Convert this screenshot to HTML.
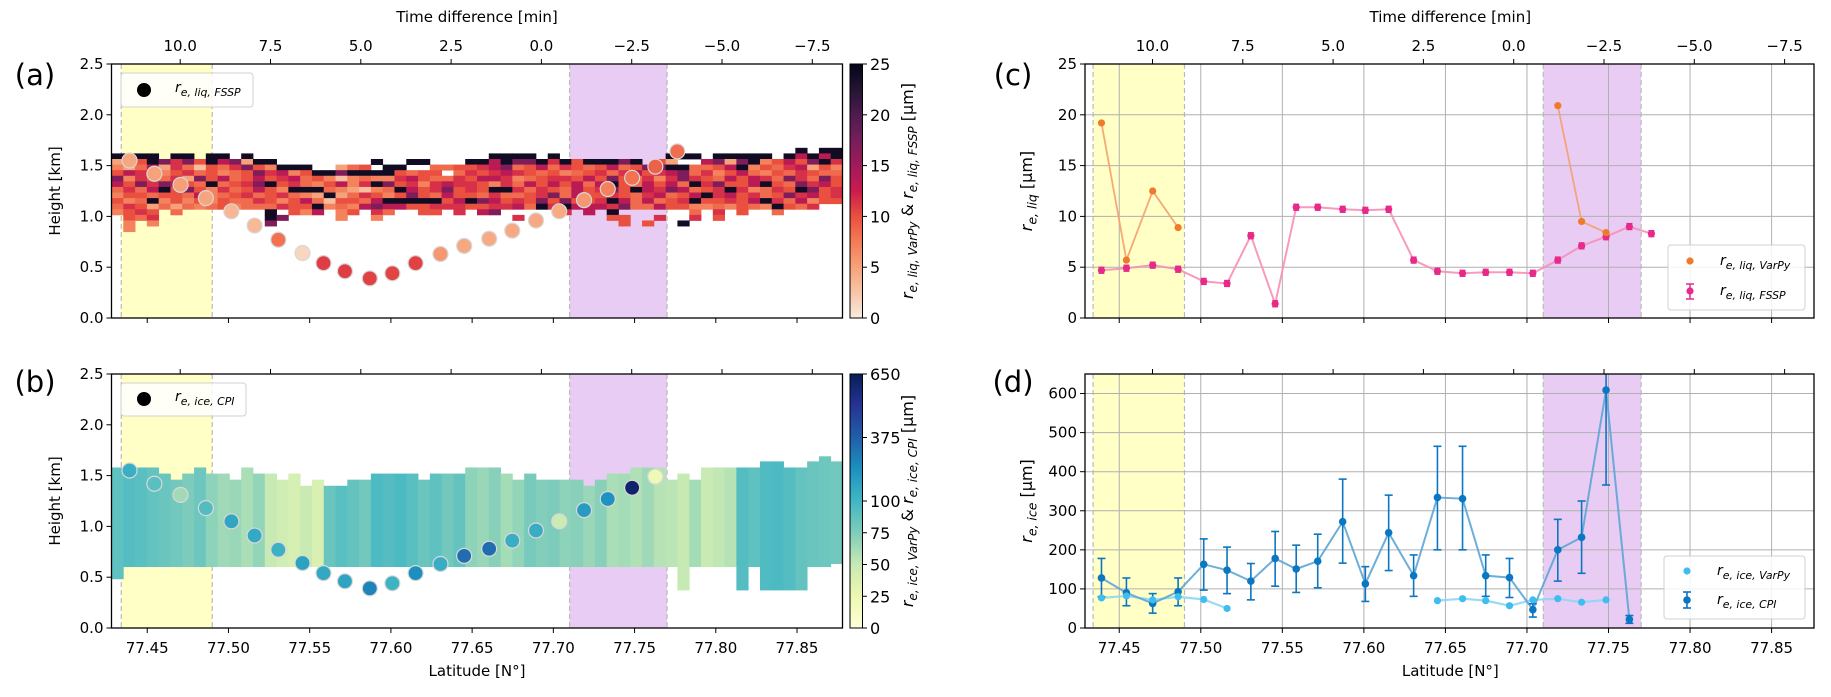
<!DOCTYPE html>
<html><head><meta charset="utf-8">
<style>
html,body{margin:0;padding:0;background:#fff;}
svg{display:block;font-family:"DejaVu Sans","Liberation Sans",sans-serif;}
</style></head>
<body>
<svg id="fig" width="1831" height="697" viewBox="0 0 1831 697" xmlns="http://www.w3.org/2000/svg">
<defs>
<linearGradient id="gradA" x1="0" y1="1" x2="0" y2="0">
<stop offset="0" stop-color="#faebdd"/><stop offset="0.1" stop-color="#f7c6a8"/><stop offset="0.2" stop-color="#f6a27a"/><stop offset="0.3" stop-color="#f47b56"/><stop offset="0.4" stop-color="#e9503f"/><stop offset="0.5" stop-color="#cb1b4f"/><stop offset="0.6" stop-color="#a11a5b"/><stop offset="0.7" stop-color="#761e5b"/><stop offset="0.8" stop-color="#4d1c4e"/><stop offset="0.9" stop-color="#251433"/><stop offset="1" stop-color="#03051a"/>
</linearGradient>
<linearGradient id="gradB" x1="0" y1="1" x2="0" y2="0">
<stop offset="0" stop-color="#ffffd9"/><stop offset="0.125" stop-color="#edf8b1"/><stop offset="0.25" stop-color="#c7e9b4"/><stop offset="0.375" stop-color="#7fcdbb"/><stop offset="0.5" stop-color="#41b6c4"/><stop offset="0.625" stop-color="#1d91c0"/><stop offset="0.75" stop-color="#225ea8"/><stop offset="0.875" stop-color="#253494"/><stop offset="1" stop-color="#081d58"/>
</linearGradient>
</defs>
<g id="layer"></g>
</svg>
<script>
// ---------------- data ----------------
const pointLats = [77.4391,77.4544,77.4705,77.4861,77.5018,77.5161,77.5307,77.5456,77.5585,77.5717,77.5870,77.6009,77.6152,77.6305,77.6451,77.6605,77.6747,77.6893,77.7036,77.7189,77.7335,77.7485,77.7628,77.7763];
const flightHeights = [1.55,1.42,1.31,1.18,1.05,0.91,0.77,0.64,0.54,0.46,0.39,0.44,0.54,0.63,0.71,0.78,0.86,0.96,1.05,1.16,1.27,1.38,1.49,1.64];
const liqFSSP = [4.7,4.9,5.2,4.8,3.6,3.4,8.1,1.4,10.9,10.9,10.7,10.6,10.7,5.7,4.6,4.4,4.5,4.5,4.4,5.7,7.1,8.0,9.0,8.3];
const liqVarPy = [19.2,5.7,12.5,8.9,null,null,null,null,null,null,null,null,null,null,null,null,null,null,null,20.9,9.5,8.4,null,null];
const iceCPI = [128,90,63,93,163,148,120,178,151,171,272,113,244,134,334,331,134,129,47,200,232,609,22];
const iceCPIlo = [80,57,38,57,97,88,72,107,91,103,166,68,147,81,200,200,81,78,28,120,140,366,12];
const iceCPIhi = [178,128,88,128,228,207,165,247,212,240,381,157,340,187,465,465,187,178,62,278,325,660,32];
const iceVarPy = [77,82,72,80,73,50,null,null,null,null,null,null,null,null,70,75,70,57,72,75,66,72,null];
const latTicks = [77.45,77.50,77.55,77.60,77.65,77.70,77.75,77.80,77.85];
const timeTicks = [10.0,7.5,5.0,2.5,0.0,-2.5,-5.0,-7.5];
const heightTicks = [0.0,0.5,1.0,1.5,2.0,2.5];
const liqTicks = [0,5,10,15,20,25];
const iceTicks = [0,100,200,300,400,500,600];
const cbarLiqTicks = [0,5,10,15,20,25];
const cbarIceTicks = [0,25,50,75,100,375,650];
const yellowBand = [77.434,77.490];
const purpleBand = [77.710,77.770];
// liquid heatmap levels (rows top->bottom: 1.62 ... 0.85 km), '.' = empty, digit d -> liqLevels[d] um
const liqLevels = [1,3,5,7,8.5,10,11.5,13.5,17,24];
const liqGrid = [
"..........|..........|..........|..........|..........|........9.|99",
"9999.99.99|.9........|..........|..9999.9..|.......999|.99999.979|79",
"2159868597|8299......|..9..99...|9979889695|99989.52..|7828935758|96",
"3247264154|6853999..2|45.99..445|5678457465|4574588994|4579354672|53",
"5768356453|4586735998|99995455.4|6567654534|5646756784|6357435465|44",
"8365462857|4575674531|3433675446|5776345665|7585463686|5475764864|85",
"7586875494|5689564357|3698563676|6536475757|4795475749|6855795486|75",
"4647958536|4575399943|2134975685|6599646547|5685976874|5696346598|56",
"3554554734|5645643292|4653585475|5464456847|5565467457|9675645867|56",
"5349353535|4465357415|5479999957|9875658585|5697474569|5565796473|55",
"4652424345|3444655934|3787755666|5566749697|7768447553|3435439546|..",
"3565.4....|...9.537.3|5.64..55.6|.78.....6.|7.9......4|.6.5..4...|..",
".546......|...98....3|..3.......|....6.....|..55..6..6|.5........|..",
".3.3......|...8......|..........|..........|...5.5..9.|..........|..",
".3........|..........|..........|..........|..........|..........|.."
];
const liqRowBase = 0.85, liqRowH = 0.055, nCols = 62;
// ice heatmap per column: top [km], bottom [km], value [um]
const iceTop = [1.58,1.58,1.58,1.58,1.52,1.46,1.52,1.58,1.52,1.52,1.46,1.58,1.52,1.52,1.46,1.52,1.40,1.46,1.40,1.40,1.46,1.46,1.52,1.52,1.52,1.52,1.46,1.52,1.52,1.52,1.58,1.58,1.58,1.52,1.46,1.52,1.46,1.46,1.46,1.46,1.40,1.46,1.52,1.52,1.58,1.58,1.58,1.46,1.52,1.46,1.58,1.58,1.58,1.58,1.58,1.64,1.64,1.58,1.58,1.64,1.69,1.64];
const iceBot = [0.48,0.6,0.6,0.6,0.6,0.6,0.6,0.6,0.6,0.6,0.6,0.6,0.6,0.6,0.6,0.6,0.6,0.6,0.6,0.6,0.6,0.6,0.6,0.6,0.6,0.6,0.6,0.6,0.6,0.6,0.6,0.6,0.6,0.6,0.6,0.6,0.6,0.6,0.6,0.6,0.6,0.6,0.6,0.6,0.6,0.6,0.6,0.6,0.37,0.6,0.6,0.6,0.6,0.37,0.6,0.37,0.37,0.37,0.37,0.6,0.6,0.63];
const iceVal = [88,92,90,86,84,80,76,82,70,64,66,60,68,50,44,40,48,38,84,90,86,80,95,92,96,90,84,88,80,86,70,66,72,62,68,78,74,76,70,72,66,72,60,62,58,64,56,54,50,62,48,52,56,92,88,94,96,92,86,84,82,80];

// ---------------- scales ----------------
const xA = lat => 111.5 + (lat - 77.428) / 0.45 * 731;
const xC = lat => 1085 + (lat - 77.429) / 0.447 * 729;
const tA = t => 180.2 + (10 - t) / 2.5 * 90.3;
const tC = t => 1152.5 + (10 - t) / 2.5 * 90.3;
const yA = h => 318 - h / 2.5 * 254;
const yB = h => 628 - h / 2.5 * 254;
const yC = v => 318 - v / 25 * 254;
const yD = v => 628 - v / 650 * 254;
const iceNorm = v => v <= 100 ? v / 100 * 0.5 : 0.5 + (v - 100) / 550 * 0.5;
const yCbB = v => 628 - iceNorm(v) * 254;

// ---------------- colormaps ----------------
const rocketR = ["#faebdd","#f7c6a8","#f6a27a","#f47b56","#e9503f","#cb1b4f","#a11a5b","#761e5b","#4d1c4e","#251433","#03051a"];
const ylgnbu = ["#ffffd9","#edf8b1","#c7e9b4","#7fcdbb","#41b6c4","#1d91c0","#225ea8","#253494","#081d58"];
function hex2rgb(h){return [1,3,5].map(i=>parseInt(h.substr(i,2),16));}
function interp(stops,f){
  f=Math.max(0,Math.min(1,f));const n=stops.length-1;const p=f*n;const i=Math.min(n-1,Math.floor(p));const r=p-i;
  const a=hex2rgb(stops[i]),b=hex2rgb(stops[i+1]);
  return "rgb("+a.map((v,k)=>Math.round(v+(b[k]-v)*r)).join(",")+")";
}
const liqColor = v => interp(rocketR, v / 25);
const iceColor = v => interp(ylgnbu, iceNorm(v));

// ---------------- helpers ----------------
const NS = "http://www.w3.org/2000/svg";
const layer = document.getElementById("layer");
function el(tag, attrs, parent){
  const e = document.createElementNS(NS, tag);
  for (const k in attrs) e.setAttribute(k, attrs[k]);
  (parent || layer).appendChild(e);
  return e;
}
function txt(x,y,s,anchor,size,parent,extra){
  const t = el("text",Object.assign({x:x,y:y,"text-anchor":anchor||"middle","font-size":size||15,fill:"#000"},extra||{}),parent);
  t.textContent = s; return t;
}
function reLabel(x,y,sub,size,parent,anchor,tail){
  const t = el("text",{x:x,y:y,"font-size":size,"text-anchor":anchor||"start","font-style":"italic"},parent);
  const a = document.createElementNS(NS,"tspan"); a.textContent="r"; t.appendChild(a);
  const b = document.createElementNS(NS,"tspan"); b.setAttribute("font-size",size*0.78); b.setAttribute("dy",size*0.28); b.textContent="e, "+sub; t.appendChild(b);
  if(tail){const c=document.createElementNS(NS,"tspan");c.setAttribute("dy",-size*0.28);c.setAttribute("font-style","normal");c.textContent=tail;t.appendChild(c);}
  return t;
}

function panelFrame(name, x0, x1, y0, y1, xfun, tfun, showLatLabels, showTimeLabels, grid, yticks, yfun, yfmt){
  const g = el("g",{});
  
  
  const yb = el("rect",{x:xfun(yellowBand[0]),y:y0,width:xfun(yellowBand[1])-xfun(yellowBand[0]),height:y1-y0,fill:"#ffffc6"},g);
  
  
  const pb = el("rect",{x:xfun(purpleBand[0]),y:y0,width:xfun(purpleBand[1])-xfun(purpleBand[0]),height:y1-y0,fill:"#e8ccf4"},g);
  
  
  [yellowBand[0],yellowBand[1],purpleBand[0],purpleBand[1]].forEach(l=>{
    el("line",{x1:xfun(l),x2:xfun(l),y1:y0,y2:y1,stroke:"#bbbbbb","stroke-width":1.2,"stroke-dasharray":"5,3"},g);
  });
  if(grid){
    latTicks.forEach(l=>el("line",{x1:xfun(l),x2:xfun(l),y1:y0,y2:y1,stroke:"#b0b0b0","stroke-width":1},g));
    yticks.forEach(v=>el("line",{x1:x0,x2:x1,y1:yfun(v),y2:yfun(v),stroke:"#b0b0b0","stroke-width":1},g));
  }
  const ax = el("g",{},g);
  
  
  latTicks.forEach(l=>{
    el("line",{x1:xfun(l),x2:xfun(l),y1:y1,y2:y1+5,stroke:"#000","stroke-width":1},ax);
    if(showLatLabels) txt(xfun(l),y1+25,l.toFixed(2),"middle",15,ax);
  });
  timeTicks.forEach(t=>{
    el("line",{x1:tfun(t),x2:tfun(t),y1:y0,y2:y0-5,stroke:"#000","stroke-width":1},ax);
    if(showTimeLabels) txt(tfun(t),y0-13,t.toFixed(1).replace("-","\u2212"),"middle",15,ax);
  });
  yticks.forEach(v=>{
    el("line",{x1:x0,x2:x0-5,y1:yfun(v),y2:yfun(v),stroke:"#000","stroke-width":1},ax);
    txt(x0-8,yfun(v)+5,yfmt(v),"end",15,ax);
  });
  return g;
}
function frameBox(g,x0,x1,y0,y1){
  el("rect",{x:x0,y:y0,width:x1-x0,height:y1-y0,fill:"none",stroke:"#000","stroke-width":1.3},g);
}

// ================= panel (a) =================
(function(){
  const x0=111.5,x1=842.5,y0=64,y1=318;
  const g = panelFrame("panel-a",x0,x1,y0,y1,xA,tA,false,true,false,heightTicks,yA,v=>v.toFixed(1));
  const hm = el("g",{},g);
  
  
  const w = 0.45/nCols;
  liqGrid.forEach((rowStr,ri)=>{
    const row = rowStr.replace(/\|/g,"").padEnd(nCols,".");
    const hLow = liqRowBase + (liqGrid.length-1-ri)*liqRowH;
    for(let j=0;j<nCols;j++){
      const c=row[j]; if(c===".") continue;
      const v = liqLevels[+c];
      const lat = 77.428 + j*w;
      const r = el("rect",{x:xA(lat),y:yA(hLow+liqRowH),width:xA(lat+w)-xA(lat)+0.4,height:yA(hLow)-yA(hLow+liqRowH)+0.4,fill:liqColor(v)},hm);
      
      
    }
  });
  flightHeights.forEach((h,i)=>{
    const c = el("circle",{cx:xA(pointLats[i]),cy:yA(h),r:7.5,fill:liqColor(liqFSSP[i]),stroke:"#d8d8d8","stroke-width":1.2},g);
    
    
  });
  frameBox(g,x0,x1,y0,y1);
  const lg = el("g",{},g);
  
  
  el("rect",{x:121,y:73,width:132,height:34,rx:3,fill:"#fff","fill-opacity":0.85,stroke:"#d0d0d0"},lg);
  el("circle",{cx:144,cy:90,r:7,fill:"#000"},lg);
  reLabel(175,92,"liq, FSSP",14,lg);
  txt(xA(77.653),22,"Time difference [min]","middle",15,g);
  const yl = txt(0,0,"Height [km]","middle",15,g,{transform:"translate(60,191) rotate(-90)"});
  
  
  const pl = txt(35,85,"(a)","middle",29,g);
  
  
  const cb = el("g",{},g);
  
  
  el("rect",{x:850,y:y0,width:12.5,height:y1-y0,fill:"url(#gradA)",stroke:"#000","stroke-width":1},cb);
  cbarLiqTicks.forEach(v=>{
    const yy = y1 - v/25*(y1-y0);
    el("line",{x1:862.5,x2:867,y1:yy,y2:yy,stroke:"#000"},cb);
    txt(870,yy+6,String(v),"start",16,cb);
  });
  const cl = el("g",{transform:"translate(913,191) rotate(-90)"},cb);
  const t = el("text",{x:0,y:0,"text-anchor":"middle","font-size":16},cl);
  t.innerHTML = '<tspan font-style="italic">r</tspan><tspan font-size="12" dy="4" font-style="italic">e, liq, VarPy</tspan><tspan dy="-4"> &amp; </tspan><tspan font-style="italic">r</tspan><tspan font-size="12" dy="4" font-style="italic">e, liq, FSSP</tspan><tspan dy="-4"> [µm]</tspan>';
})();

// ================= panel (b) =================
(function(){
  const x0=111.5,x1=842.5,y0=374,y1=628;
  const g = panelFrame("panel-b",x0,x1,y0,y1,xA,tA,true,false,false,heightTicks,yB,v=>v.toFixed(1));
  const hm = el("g",{},g);
  
  
  const w = 0.45/nCols;
  for(let j=0;j<nCols;j++){
    const lat = 77.428 + j*w;
    const r = el("rect",{x:xA(lat),y:yB(iceTop[j]),width:xA(lat+w)-xA(lat)+0.4,height:yB(iceBot[j])-yB(iceTop[j]),fill:iceColor(iceVal[j])},hm);
    
    
  }
  iceCPI.forEach((v,i)=>{
    const c = el("circle",{cx:xA(pointLats[i]),cy:yB(flightHeights[i]),r:7.5,fill:iceColor(v),stroke:"#d8d8d8","stroke-width":1.2},g);
    
    
  });
  frameBox(g,x0,x1,y0,y1);
  const lg = el("g",{},g);
  
  
  el("rect",{x:121,y:383,width:125,height:33,rx:3,fill:"#fff","fill-opacity":0.85,stroke:"#d0d0d0"},lg);
  el("circle",{cx:144,cy:399,r:7,fill:"#000"},lg);
  reLabel(175,401,"ice, CPI",14,lg);
  const xl = txt(xA(77.653),676,"Latitude [N°]","middle",15,g);
  
  
  const yl = txt(0,0,"Height [km]","middle",15,g,{transform:"translate(60,501) rotate(-90)"});
  
  
  const pl = txt(35,392,"(b)","middle",29,g);
  
  
  const cb = el("g",{},g);
  
  
  el("rect",{x:850,y:y0,width:12.5,height:y1-y0,fill:"url(#gradB)",stroke:"#000","stroke-width":1},cb);
  cbarIceTicks.forEach(v=>{
    const yy = yCbB(v);
    el("line",{x1:862.5,x2:867,y1:yy,y2:yy,stroke:"#000"},cb);
    txt(870,yy+6,String(v),"start",16,cb);
  });
  const cl = el("g",{transform:"translate(913,501) rotate(-90)"},cb);
  const t = el("text",{x:0,y:0,"text-anchor":"middle","font-size":16},cl);
  t.innerHTML = '<tspan font-style="italic">r</tspan><tspan font-size="12" dy="4" font-style="italic">e, ice, VarPy</tspan><tspan dy="-4"> &amp; </tspan><tspan font-style="italic">r</tspan><tspan font-size="12" dy="4" font-style="italic">e, ice, CPI</tspan><tspan dy="-4"> [µm]</tspan>';
})();

function segLines(vals, xf, yf, lats, g, color, width, opacity){
  let pts=[];
  const flush=()=>{ if(pts.length>1){ const p=el("polyline",{points:pts.join(" "),fill:"none",stroke:color,"stroke-width":width,"stroke-opacity":opacity},g);   } pts=[]; };
  vals.forEach((v,i)=>{ if(v===null){flush();} else pts.push(xf(lats[i])+","+yf(v)); });
  flush();
}

// ================= panel (c) =================
(function(){
  const x0=1085,x1=1814,y0=64,y1=318;
  const g = panelFrame("panel-c",x0,x1,y0,y1,xC,tC,false,true,true,liqTicks,yC,v=>String(v));
  segLines(liqVarPy,xC,yC,pointLats,g,"#f4a070",1.8,0.9);
  segLines(liqFSSP,xC,yC,pointLats,g,"#f78fb8",2,0.9);
  liqFSSP.forEach((v,i)=>{
    const x=xC(pointLats[i]), y=yC(v);
    el("line",{x1:x-3,x2:x+3,y1:y-3,y2:y-3,stroke:"#e7298a","stroke-width":1.3},g);
    el("line",{x1:x-3,x2:x+3,y1:y+3,y2:y+3,stroke:"#e7298a","stroke-width":1.3},g);
    const c=el("circle",{cx:x,cy:y,r:3.6,fill:"#e7298a"},g);
    
    
  });
  liqVarPy.forEach((v,i)=>{
    if(v===null) return;
    const c=el("circle",{cx:xC(pointLats[i]),cy:yC(v),r:3.6,fill:"#f07a2c"},g);
    
    
  });
  frameBox(g,x0,x1,y0,y1);
  const lg = el("g",{},g);
  
  
  el("rect",{x:1668,y:245,width:137,height:65,rx:3,fill:"#fff","fill-opacity":0.85,stroke:"#d0d0d0"},lg);
  el("circle",{cx:1690,cy:261,r:3.6,fill:"#f07a2c"},lg);
  reLabel(1720,265,"liq, VarPy",14,lg);
  el("line",{x1:1690,x2:1690,y1:284,y2:299,stroke:"#e7298a","stroke-width":1.5},lg);
  el("line",{x1:1686,x2:1694,y1:284,y2:284,stroke:"#e7298a","stroke-width":1.5},lg);
  el("line",{x1:1686,x2:1694,y1:299,y2:299,stroke:"#e7298a","stroke-width":1.5},lg);
  el("circle",{cx:1690,cy:291,r:3.6,fill:"#e7298a"},lg);
  reLabel(1720,295,"liq, FSSP",14,lg);
  txt(xC(77.653),22,"Time difference [min]","middle",15,g);
  const yl = el("g",{transform:"translate(1032,191) rotate(-90)"},g);
  
  
  reLabel(0,0,"liq",16,yl,"middle"," [µm]");
  const pl = txt(1013,85,"(c)","middle",29,g);
  
  
})();

// ================= panel (d) =================
(function(){
  const x0=1085,x1=1814,y0=374,y1=628;
  const g = panelFrame("panel-d",x0,x1,y0,y1,xC,tC,true,false,true,iceTicks,yD,v=>String(v));
  const clip = el("clipPath",{id:"clipD"},g);
  el("rect",{x:x0,y:y0,width:x1-x0,height:y1-y0},clip);
  const inner = el("g",{"clip-path":"url(#clipD)"},g);
  segLines(iceVarPy,xC,yD,pointLats,inner,"#8fd6f5",2.2,0.9);
  segLines(iceCPI,xC,yD,pointLats,inner,"#5da5d6",2,0.9);
  iceCPI.forEach((v,i)=>{
    const x=xC(pointLats[i]);
    const lo=yD(iceCPIlo[i]), hi=yD(iceCPIhi[i]);
    el("line",{x1:x,x2:x,y1:lo,y2:hi,stroke:"#0b76c2","stroke-width":1.6},inner);
    el("line",{x1:x-4,x2:x+4,y1:lo,y2:lo,stroke:"#0b76c2","stroke-width":1.6},inner);
    el("line",{x1:x-4,x2:x+4,y1:hi,y2:hi,stroke:"#0b76c2","stroke-width":1.6},inner);
    const c=el("circle",{cx:x,cy:yD(v),r:3.8,fill:"#0b76c2"},inner);
    
    
  });
  iceVarPy.forEach((v,i)=>{
    if(v===null) return;
    const c=el("circle",{cx:xC(pointLats[i]),cy:yD(v),r:3.6,fill:"#3fbdf0"},inner);
    
    
  });
  frameBox(g,x0,x1,y0,y1);
  const lg = el("g",{},g);
  
  
  el("rect",{x:1664,y:556,width:141,height:63,rx:3,fill:"#fff","fill-opacity":0.85,stroke:"#d0d0d0"},lg);
  el("circle",{cx:1687,cy:571,r:3.6,fill:"#3fbdf0"},lg);
  reLabel(1717,575,"ice, VarPy",14,lg);
  el("line",{x1:1687,x2:1687,y1:592,y2:608,stroke:"#0b76c2","stroke-width":1.6},lg);
  el("line",{x1:1683,x2:1691,y1:592,y2:592,stroke:"#0b76c2","stroke-width":1.6},lg);
  el("line",{x1:1683,x2:1691,y1:608,y2:608,stroke:"#0b76c2","stroke-width":1.6},lg);
  el("circle",{cx:1687,cy:600,r:3.8,fill:"#0b76c2"},lg);
  reLabel(1717,604,"ice, CPI",14,lg);
  const xl = txt(xC(77.653),676,"Latitude [N°]","middle",15,g);
  
  
  const yl = el("g",{transform:"translate(1032,501) rotate(-90)"},g);
  
  
  reLabel(0,0,"ice",16,yl,"middle"," [µm]");
  const pl = txt(1013,392,"(d)","middle",29,g);
  
  
})();
</script>
</body></html>
